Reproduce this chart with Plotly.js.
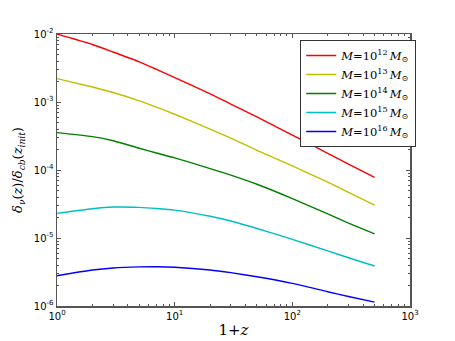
<!DOCTYPE html>
<html>
<head>
<meta charset="utf-8">
<script src="https://cdn.plot.ly/plotly-3.0.1.min.js"></script>
<style>html,body{margin:0;padding:0;background:#fff;}#chart{width:455px;height:341px;}</style>
</head>
<body>
<div id="chart"></div>
<script>
// 1+z sample points
const onePlusZ = [1, 2, 3, 5, 7, 10, 20, 30, 50, 100, 200, 300, 500];
// delta_nu(z)/delta_cb(z_init) for each halo mass
const m12 = [1.0e-2, 7.0e-3, 5.43e-3, 3.89e-3, 3.02e-3, 2.29e-3, 1.32e-3, 9.33e-4, 6.03e-4, 3.27e-4, 1.76e-4, 1.22e-4, 7.76e-5];
const m13 = [2.21e-3, 1.66e-3, 1.38e-3, 1.04e-3, 8.41e-4, 6.61e-4, 3.98e-4, 2.95e-4, 1.95e-4, 1.15e-4, 6.61e-5, 4.68e-5, 3.05e-5];
const m14 = [3.55e-4, 3.09e-4, 2.69e-4, 2.09e-4, 1.78e-4, 1.51e-4, 1.05e-4, 8.41e-5, 6.17e-5, 3.80e-5, 2.26e-5, 1.66e-5, 1.15e-5];
const m15 = [2.30e-5, 2.69e-5, 2.85e-5, 2.82e-5, 2.72e-5, 2.57e-5, 2.09e-5, 1.78e-5, 1.38e-5, 9.55e-6, 6.46e-6, 5.13e-6, 3.87e-6];
const m16 = [2.79e-6, 3.39e-6, 3.63e-6, 3.76e-6, 3.78e-6, 3.72e-6, 3.39e-6, 3.09e-6, 2.69e-6, 2.15e-6, 1.62e-6, 1.38e-6, 1.14e-6];
const seriesNames = [
  '<i>M</i>=10<sup>12</sup>\u2009<i>M</i><sub>⊙</sub>',
  '<i>M</i>=10<sup>13</sup>\u2009<i>M</i><sub>⊙</sub>',
  '<i>M</i>=10<sup>14</sup>\u2009<i>M</i><sub>⊙</sub>',
  '<i>M</i>=10<sup>15</sup>\u2009<i>M</i><sub>⊙</sub>',
  '<i>M</i>=10<sup>16</sup>\u2009<i>M</i><sub>⊙</sub>'
];
const seriesColors = ['#ff0000', '#bfbf00', '#008000', '#00bfbf', '#0000ff'];
const xTickVals = [1, 10, 100, 1000];
const xTickText = ['10<sup>0</sup>', '10<sup>1</sup>', '10<sup>2</sup>', '10<sup>3</sup>'];
const yTickVals = [1e-6, 1e-5, 1e-4, 1e-3, 1e-2];
const yTickText = ['10<sup>-6</sup>', '10<sup>-5</sup>', '10<sup>-4</sup>', '10<sup>-3</sup>', '10<sup>-2</sup>'];

const allY = [m12, m13, m14, m15, m16];
const traces = allY.map((ys, i) => ({
  x: onePlusZ, y: ys, type: 'scatter', mode: 'lines', name: seriesNames[i],
  line: {color: seriesColors[i], width: 1.4, shape: 'spline', smoothing: 0.6}
}));

const axisCommon = {
  type: 'log', showgrid: false, zeroline: false, showline: true, linecolor: '#555', linewidth: 1.5,
  mirror: 'allticks', ticks: 'inside', ticklen: 4, tickcolor: '#555', tickwidth: 1,
  tickfont: {family: 'DejaVu Sans', size: 10, color: '#000'},
  minor: {ticks: 'inside', ticklen: 2, tickcolor: '#555', tickwidth: 1, dtick: 'D1', showgrid: false}
};

const layout = {
  width: 455, height: 341,
  margin: {l: 57, r: 45, t: 34, b: 35},
  paper_bgcolor: '#fff', plot_bgcolor: '#fff',
  showlegend: true,
  xaxis: Object.assign({}, axisCommon, {
    range: [0, 3], tickvals: xTickVals, ticktext: xTickText,
    title: {text: '1+<i>z</i>', font: {family: 'DejaVu Serif', size: 15, color: '#000'}, standoff: 4}
  }),
  yaxis: Object.assign({}, axisCommon, {
    range: [-6, -2], tickvals: yTickVals, ticktext: yTickText,
    title: {text: '<i>δ</i><sub><i>ν</i></sub>(<i>z</i>)/<i>δ</i><sub><i>cb</i></sub>(<i>z</i><sub><i>init</i></sub>)', font: {family: 'DejaVu Serif', size: 13, color: '#000'}, standoff: 8}
  }),
  legend: {
    x: 0.689, y: 0.978, xanchor: 'left', yanchor: 'top',
    bgcolor: '#fff', bordercolor: '#333', borderwidth: 1,
    font: {family: 'DejaVu Serif', size: 11.5, color: '#000'},
    tracegroupgap: 0
  }
};

Plotly.newPlot('chart', traces, layout, {displayModeBar: false, staticPlot: true});
</script>
</body>
</html>
